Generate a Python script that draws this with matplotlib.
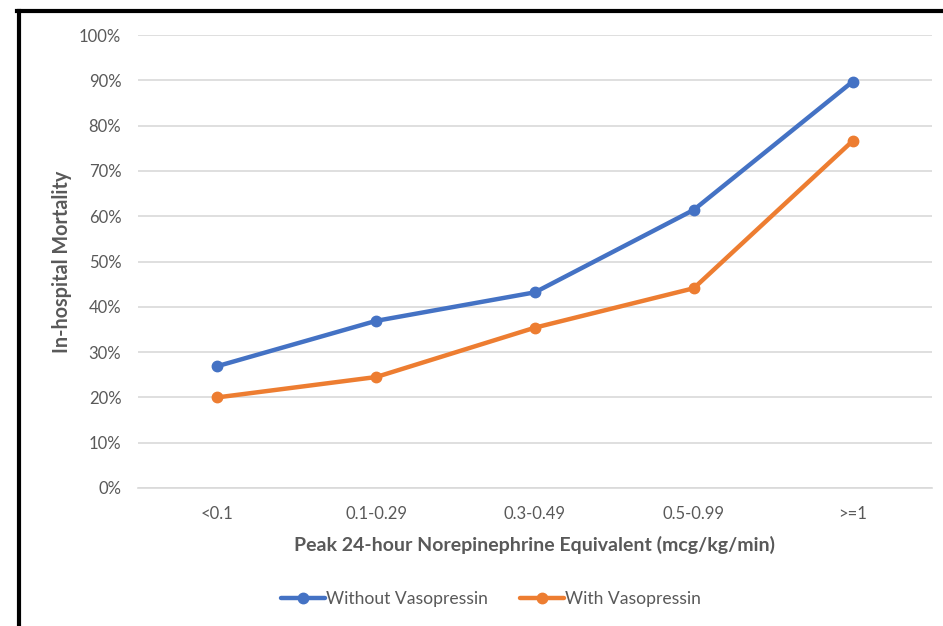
import matplotlib
matplotlib.use('Agg')
import matplotlib.pyplot as plt
from matplotlib.lines import Line2D
from matplotlib.ticker import FuncFormatter

plt.rcParams['font.family'] = ['Lato', 'DejaVu Sans']

categories = ['<0.1', '0.1-0.29', '0.3-0.49', '0.5-0.99', '>=1']
without_vaso = [26.9, 36.9, 43.2, 61.4, 89.7]
with_vaso = [20.0, 24.5, 35.4, 44.1, 76.6]
series_names = ['Without Vasopressin', 'With Vasopressin']

blue = '#4472C4'
orange = '#ED7D31'
txt = '#595959'
W, H = 943, 626

fig = plt.figure(figsize=(W / 100, H / 100), dpi=100)
ax = fig.add_axes([138 / W, 1 - 488 / H, (932 - 138) / W, (488 - 35) / H])

x = list(range(len(categories)))
ax.plot(x, without_vaso, color=blue, lw=3.2, marker='o', ms=7.5, label=series_names[0],
        solid_capstyle='round', zorder=3)
ax.plot(x, with_vaso, color=orange, lw=3.2, marker='o', ms=7.5, label=series_names[1],
        solid_capstyle='round', zorder=3)

ax.set_xlim(-0.5, len(categories) - 0.5)
ax.set_ylim(0, 100)
ax.set_yticks(range(0, 101, 10))
ax.yaxis.set_major_formatter(FuncFormatter(lambda v, p: '%d%%' % v))
ax.set_xticks(x)
ax.set_xticklabels(categories)
ax.grid(axis='y', color='#D9D9D9', lw=1.2)
ax.set_axisbelow(True)
for s in ['top', 'right', 'left']:
    ax.spines[s].set_visible(False)
ax.spines['bottom'].set_color('#D9D9D9')
ax.spines['bottom'].set_linewidth(1.2)
ax.tick_params(axis='both', length=0, labelsize=12, labelcolor=txt)
ax.tick_params(axis='y', pad=12)
ax.tick_params(axis='x', pad=13)

fig.text(534 / W, 1 - 545 / H, 'Peak 24-hour Norepinephrine Equivalent (mcg/kg/min)',
         ha='center', va='center', fontsize=14, fontweight='bold', color=txt)
fig.text(62 / W, 1 - 262 / H, 'In-hospital Mortality', rotation=90,
         ha='center', va='center', fontsize=14.2, fontweight='bold', color=txt)

fig.legend(loc='center', bbox_to_anchor=(491 / W, 1 - 599 / H), ncol=2, frameon=False,
           fontsize=12.6, labelcolor=txt, handlelength=2.5, handletextpad=0.1,
           columnspacing=1.8)

# partial black frame (left and top edges visible)
fig.add_artist(Line2D([18.5 / W, 18.5 / W], [0, 1 - 11 / H], transform=fig.transFigure,
                      color='black', lw=3))
fig.add_artist(Line2D([17 / W, 1], [1 - 11 / H, 1 - 11 / H], transform=fig.transFigure,
                      color='black', lw=3))

fig.savefig('out.png', dpi=100)
